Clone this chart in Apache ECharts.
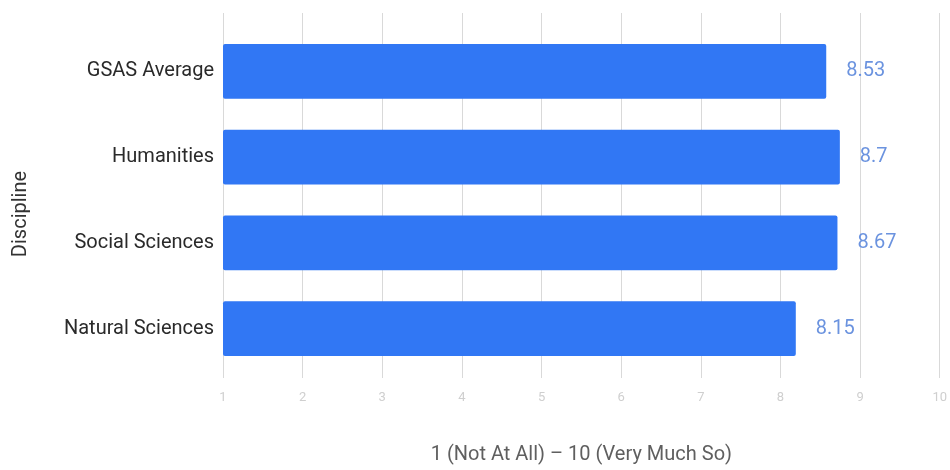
<!DOCTYPE html>
<html><head><meta charset="utf-8">
<script src="https://cdn.jsdelivr.net/npm/echarts@6/dist/echarts.min.js"></script>
<style>html,body{margin:0;padding:0;background:#fff}#c{width:950px;height:470px}</style>
</head><body><div id="c"></div>
<script>
const categories = ["GSAS Average", "Humanities", "Social Sciences", "Natural Sciences"];
const values = [8.53, 8.7, 8.67, 8.15];
const xTicks = [1, 10, 1];
const xAxisTitle = "1 (Not At All) \u2013 10 (Very Much So)";
const yAxisTitle = "Discipline";

const chart = echarts.init(document.getElementById('c'), null, {renderer: 'canvas'});
const font = 'Roboto, "Noto Sans", sans-serif';
chart.setOption({
  animation: false,
  textStyle: {fontFamily: font},
  grid: [
    {left: 223, right: 6, top: 13, bottom: 85},
    {left: 223, right: 6, top: 28.5, bottom: 98.5}
  ],
  graphic: [{
    type: 'text', x: 21, y: 214, rotation: Math.PI / 2,
    style: {text: yAxisTitle, fill: '#333', font: '20px ' + font, align: 'center', verticalAlign: 'middle'}
  }],
  xAxis: [
    {gridIndex: 0, type: 'value', min: xTicks[0], max: xTicks[1], interval: xTicks[2],
     axisLine: {show: false}, axisTick: {show: false},
     splitLine: {show: true, lineStyle: {color: '#d9d9d9', width: 1}},
     axisLabel: {color: '#cfcfcf', fontSize: 13, margin: 13, fontFamily: font},
     name: xAxisTitle, nameLocation: 'middle', nameGap: 67,
     nameTextStyle: {color: '#5f5f5f', fontSize: 20, fontFamily: font}},
    {gridIndex: 1, type: 'value', min: xTicks[0], max: xTicks[1], interval: xTicks[2],
     show: false}
  ],
  yAxis: [
    {gridIndex: 0, type: 'value', show: false},
    {gridIndex: 1, type: 'category', data: categories, inverse: true,
     axisLine: {show: false}, axisTick: {show: false},
     axisLabel: {color: '#2a2a2a', fontSize: 20, margin: 9, fontFamily: font}}
  ],
  series: [{
    type: 'bar', xAxisIndex: 1, yAxisIndex: 1,
    data: values, barCategoryGap: '36%',
    itemStyle: {color: '#3177f4', borderRadius: 2},
    label: {show: true, position: 'right', distance: 20, color: '#6b93df', fontSize: 20, fontFamily: font}
  }]
});
</script></body></html>
